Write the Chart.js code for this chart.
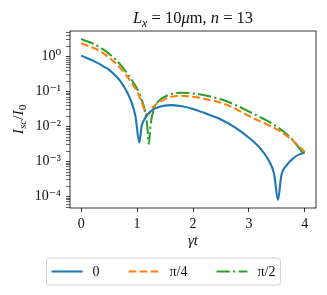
<!DOCTYPE html>
<html>
<head>
<meta charset="utf-8">
<script src="https://cdn.jsdelivr.net/npm/chart.js@4.4.1/dist/chart.umd.min.js"></script>
<style>
  body { margin: 0; background: #fff; }
  canvas { display: block; }
</style>
</head>
<body>
<canvas id="myChart" width="327" height="295"></canvas>
<script>
// phase labels and colours
var labels = ['0', 'π/4', 'π/2'];
var colors = ['#1f77b4', '#ff7f0e', '#2ca02c'];
var dashes = [[], [7.7, 3.3], [13.3, 3.3, 2.1, 3.3]];

// gamma*t and I_sc/I_0
var t0  = [0, 0.1, 0.2, 0.3, 0.4, 0.5, 0.6, 0.7, 0.8, 0.9, 0.97, 1.04, 1.08, 1.15, 1.25, 1.4, 1.6, 1.8, 2.0, 2.25, 2.5, 2.75, 3.0, 3.2, 3.35, 3.45, 3.52, 3.58, 3.68, 3.8, 3.9, 4.0];
var I0  = [1.07, 0.91, 0.78, 0.65, 0.52, 0.42, 0.30, 0.20, 0.112, 0.050, 0.020, 0.0035, 0.010, 0.018, 0.028, 0.037, 0.041, 0.038, 0.032, 0.023, 0.016, 0.0095, 0.0048, 0.0024, 0.0011, 0.00045, 0.00008, 0.0004, 0.0008, 0.00126, 0.0016, 0.0018];

var t45 = [0, 0.1, 0.2, 0.3, 0.4, 0.5, 0.6, 0.7, 0.8, 0.9, 1.0, 1.08, 1.14, 1.18, 1.22, 1.3, 1.4, 1.55, 1.75, 2.0, 2.25, 2.5, 2.75, 3.0, 3.25, 3.5, 3.75, 4.0];
var I45 = [2.4, 2.1, 1.82, 1.55, 1.23, 0.93, 0.69, 0.47, 0.30, 0.18, 0.10, 0.050, 0.028, 0.021, 0.025, 0.038, 0.050, 0.066, 0.076, 0.071, 0.060, 0.048, 0.033, 0.020, 0.013, 0.0083, 0.0044, 0.0019];

var t90 = [0, 0.1, 0.2, 0.3, 0.4, 0.5, 0.6, 0.7, 0.8, 0.9, 1.0, 1.08, 1.14, 1.18, 1.21, 1.24, 1.3, 1.4, 1.55, 1.8, 2.0, 2.25, 2.5, 2.75, 3.0, 3.25, 3.5, 3.75, 4.0];
var I90 = [3.2, 2.75, 2.4, 2.0, 1.58, 1.2, 0.87, 0.59, 0.37, 0.22, 0.12, 0.060, 0.028, 0.011, 0.0032, 0.011, 0.032, 0.056, 0.079, 0.093, 0.089, 0.076, 0.060, 0.042, 0.027, 0.017, 0.010, 0.0047, 0.0015];

var xTicks = [0, 1, 2, 3, 4];
var yTicks = [1e-4, 1e-3, 1e-2, 1e-1, 1];
var yTickLabels = ['10⁻⁴', '10⁻³', '10⁻²', '10⁻¹', '10⁰'];

var serif = "'Liberation Serif', 'DejaVu Serif', serif";

function pts(xs, ys) {
  return xs.map(function (x, i) { return { x: x, y: ys[i] }; });
}

var series = [pts(t0, I0), pts(t45, I45), pts(t90, I90)];

// minor ticks 2..9 in every decade
var yMin = 4.7e-5, yMax = 5.4;
var yAll = [];
for (var e = -5; e <= 0; e++) {
  for (var k = 1; k <= 9; k++) {
    var v = k * Math.pow(10, e);
    if (k == 1) v = Math.pow(10, e);
    if (v >= yMin && v <= yMax) yAll.push(v);
  }
}

function isMajor(v) {
  for (var i = 0; i < yTicks.length; i++) {
    if (Math.abs(v - yTicks[i]) / yTicks[i] < 1e-6) return i;
  }
  return -1;
}

// text with italics and subscripts
function drawRich(ctx, parts, x, y, size) {
  function font(p) {
    var it = p[1].indexOf('i') >= 0 ? 'italic ' : '';
    var sz = p[1].indexOf('s') >= 0 ? size * 0.72 : size;
    return it + sz + 'px ' + serif;
  }
  var total = 0;
  parts.forEach(function (p) { ctx.font = font(p); total += ctx.measureText(p[0]).width; });
  var cx = x - total / 2;
  ctx.textAlign = 'left';
  ctx.textBaseline = 'alphabetic';
  parts.forEach(function (p) {
    ctx.font = font(p);
    var dy = p[1].indexOf('s') >= 0 ? size * 0.22 : 0;
    ctx.fillText(p[0], cx, y + dy);
    cx += ctx.measureText(p[0]).width;
  });
}

var extras = {
  id: 'extras',
  afterDraw: function (chart) {
    var ctx = chart.ctx;
    var a = chart.chartArea;
    ctx.save();
    // frame
    ctx.strokeStyle = '#000';
    ctx.lineWidth = 0.8;
    ctx.strokeRect(a.left, a.top, a.right - a.left, a.bottom - a.top);

    ctx.fillStyle = '#111';
    var mid = (a.left + a.right) / 2;
    drawRich(ctx, [['L', 'i'], ['x', 'is'], [' = 10', ''], ['μ', 'i'], ['m, ', ''], ['n', 'i'], [' = 13', '']], mid, 23, 16.5);
    drawRich(ctx, [['γt', 'i']], mid, 245, 15);

    ctx.save();
    ctx.translate(23, (a.top + a.bottom) / 2);
    ctx.rotate(-Math.PI / 2);
    drawRich(ctx, [['I', 'i'], ['sc', 'is'], ['/', ''], ['I', 'i'], ['0', 's']], 0, 0, 15.5);
    ctx.restore();

    // legend
    ctx.font = '14px ' + serif;
    var lineLen = 31, gap1 = 10, gap2 = 29, pad = 5;
    var widths = labels.map(function (l) { return ctx.measureText(l).width; });
    var total = pad * 2 + 3 * (lineLen + gap1) + widths[0] + widths[1] + widths[2] + 2 * gap2;
    var bx = (chart.width - total) / 2, by = 258, bh = 27;
    ctx.beginPath();
    ctx.roundRect(bx, by, total, bh, 3);
    ctx.fillStyle = 'rgba(255,255,255,0.8)';
    ctx.fill();
    ctx.strokeStyle = '#d0d0d0';
    ctx.lineWidth = 1;
    ctx.stroke();
    var cx = bx + pad, cy = by + bh / 2;
    for (var i = 0; i < labels.length; i++) {
      ctx.beginPath();
      ctx.setLineDash(dashes[i]);
      ctx.strokeStyle = colors[i];
      ctx.lineWidth = 2.1;
      ctx.moveTo(cx, cy);
      ctx.lineTo(cx + lineLen, cy);
      ctx.stroke();
      ctx.setLineDash([]);
      cx += lineLen + gap1;
      ctx.fillStyle = '#111';
      ctx.textAlign = 'left';
      ctx.textBaseline = 'middle';
      ctx.fillText(labels[i], cx, cy + 1);
      cx += widths[i] + gap2;
    }
    ctx.restore();
  }
};

var ctx = document.getElementById('myChart');
var chart = new Chart(ctx, {
  type: 'line',
  data: {
    datasets: series.map(function (d, i) {
      return {
        label: labels[i],
        data: d,
        borderColor: colors[i],
        backgroundColor: colors[i],
        borderWidth: 2.1,
        borderDash: dashes[i],
        pointRadius: 0,
        fill: false,
        cubicInterpolationMode: 'monotone'
      };
    })
  },
  options: {
    responsive: false,
    animation: false,
    devicePixelRatio: 1,
    layout: { padding: { left: 0, right: 11, top: 31, bottom: 0 } },
    plugins: {
      legend: { display: false },
      title: { display: false },
      tooltip: { enabled: false }
    },
    scales: {
      x: {
        type: 'linear',
        min: -0.2,
        max: 4.2,
        afterBuildTicks: function (s) { s.ticks = xTicks.map(function (v) { return { value: v }; }); },
        afterFit: function (s) { s.height = 87; },
        grid: { drawOnChartArea: false, tickLength: 4, color: '#000', tickWidth: 0.8 },
        border: { display: false },
        ticks: {
          color: '#111',
          padding: 4,
          maxRotation: 0,
          font: { family: serif, size: 14 },
          callback: function (v) { return String(v); }
        }
      },
      y: {
        type: 'logarithmic',
        min: yMin,
        max: yMax,
        afterBuildTicks: function (s) { s.ticks = yAll.map(function (v) { return { value: v, major: isMajor(v) >= 0 }; }); },
        afterFit: function (s) { s.width = 70; },
        grid: {
          drawOnChartArea: false,
          tickLength: 4,
          color: '#000',
          tickWidth: function (c) { return c.tick && isMajor(c.tick.value) >= 0 ? 0.8 : 0.6; }
        },
        border: { display: false },
        ticks: {
          autoSkip: false,
          color: '#111',
          padding: 5,
          font: { family: serif, size: 14 },
          callback: function (v) {
            var i = isMajor(v);
            return i >= 0 ? yTickLabels[i] : '';
          }
        }
      }
    }
  },
  plugins: [extras]
});
</script>
</body>
</html>
